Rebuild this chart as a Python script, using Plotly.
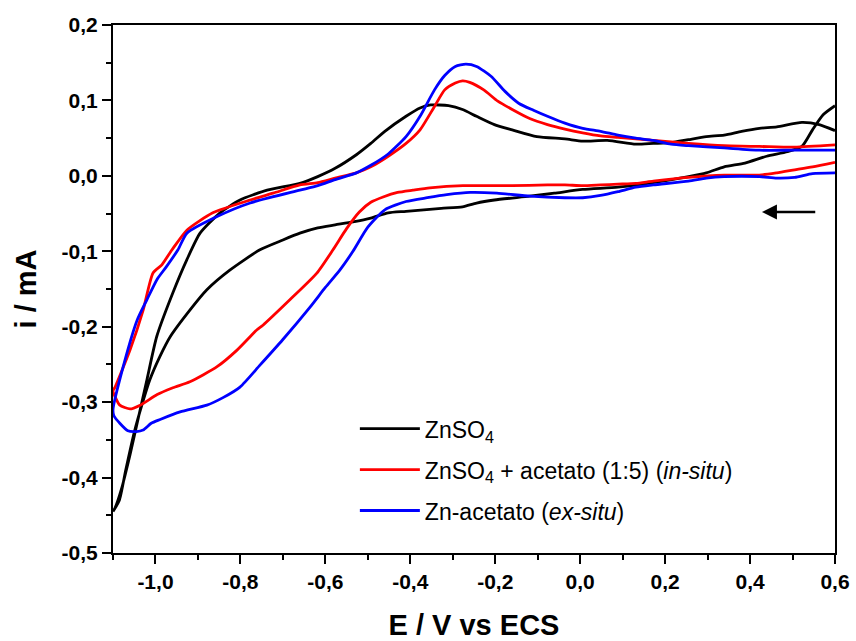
import plotly.graph_objects as go

# ZnSO4 (black)
znso4_E = [0.6, 0.563, 0.522, 0.463, 0.422, 0.380, 0.339, 0.297, 0.255, 0.214, 0.172, 0.131, 0.064, 0.006,
           -0.036, -0.102, -0.160, -0.202, -0.244, -0.277, -0.310, -0.352, -0.377, -0.410, -0.460, -0.493,
           -0.527, -0.577, -0.618, -0.660, -0.737, -0.801, -0.848, -0.895, -0.926, -0.959, -0.997, -1.02,
           -1.04, -1.06, -1.08, -1.095, -1.1,
           -1.085, -1.07, -1.05, -1.03, -1.013, -0.99, -0.965, -0.919, -0.879, -0.825, -0.754, -0.7, -0.660,
           -0.618, -0.577, -0.535, -0.493, -0.452, -0.410, -0.327, -0.277, -0.244, -0.202, -0.119, -0.061,
           0.006, 0.089, 0.172, 0.255, 0.297, 0.339, 0.388, 0.439, 0.488, 0.522, 0.547, 0.572, 0.6]
znso4_i = [0.060, 0.068, 0.071, 0.065, 0.063, 0.059, 0.054, 0.052, 0.048, 0.044, 0.043, 0.042, 0.047, 0.046,
           0.049, 0.052, 0.061, 0.068, 0.079, 0.088, 0.093, 0.094, 0.090, 0.079, 0.059, 0.043,
           0.028, 0.010, -0.001, -0.010, -0.019, -0.032, -0.049, -0.076, -0.111, -0.155, -0.213, -0.27,
           -0.32, -0.37, -0.415, -0.44, -0.445,
           -0.43, -0.39, -0.34, -0.30, -0.27, -0.24, -0.213, -0.178, -0.151, -0.125, -0.098, -0.085, -0.076,
           -0.069, -0.065, -0.061, -0.056, -0.049, -0.047, -0.043, -0.041, -0.036, -0.032, -0.027, -0.023,
           -0.018, -0.015, -0.009, -0.001, 0.004, 0.012, 0.017, 0.026, 0.032, 0.039, 0.061, 0.081, 0.093]

# ZnSO4 + acetato (1:5) in-situ (red)
insitu_E = [0.6, 0.505, 0.422, 0.339, 0.255, 0.172, 0.131, 0.089, 0.048, 0.006, -0.036, -0.077, -0.119,
            -0.160, -0.194, -0.227, -0.260, -0.277, -0.294, -0.319, -0.343, -0.377, -0.410, -0.452, -0.493,
            -0.527, -0.577, -0.618, -0.660, -0.723, -0.777, -0.865, -0.926, -0.961, -0.985, -1.006, -1.029,
            -1.06, -1.095, -1.1,
            -1.095, -1.084, -1.06, -1.036, -0.996, -0.959, -0.919, -0.855, -0.808, -0.761, -0.747, -0.683,
            -0.62, -0.582, -0.55, -0.52, -0.493, -0.464, -0.43, -0.394, -0.354, -0.276, -0.160, -0.077,
            -0.036, 0.006, 0.048, 0.089, 0.131, 0.172, 0.255, 0.339, 0.422, 0.463, 0.505, 0.547, 0.6]
insitu_i = [0.041, 0.038, 0.039, 0.040, 0.043, 0.047, 0.049, 0.051, 0.053, 0.057, 0.062, 0.068, 0.076,
            0.088, 0.099, 0.114, 0.124, 0.126, 0.123, 0.114, 0.092, 0.061, 0.043, 0.026, 0.012,
            0.004, -0.003, -0.009, -0.012, -0.023, -0.032, -0.049, -0.072, -0.098, -0.118, -0.129, -0.178,
            -0.231, -0.28, -0.285,
            -0.293, -0.304, -0.309, -0.304, -0.29, -0.281, -0.273, -0.253, -0.231, -0.204, -0.198, -0.164,
            -0.129, -0.098, -0.07, -0.048, -0.035, -0.028, -0.022, -0.019, -0.016, -0.013, -0.013, -0.012,
            -0.012, -0.013, -0.012, -0.011, -0.010, -0.007, -0.002, 0.001, 0.001, 0.004, 0.008, 0.012, 0.018]

# Zn-acetato ex-situ (blue)
exsitu_E = [0.6, 0.505, 0.422, 0.339, 0.255, 0.214, 0.172, 0.131, 0.089, 0.048, 0.006, -0.036, -0.077,
            -0.110, -0.144, -0.177, -0.210, -0.244, -0.269, -0.294, -0.319, -0.343, -0.377, -0.410, -0.452,
            -0.493, -0.527, -0.577, -0.618, -0.660, -0.777, -0.855, -0.926, -0.947, -0.975, -0.996, -1.02,
            -1.043, -1.076, -1.1,
            -1.098, -1.084, -1.065, -1.045, -1.029, -1.01, -0.989, -0.942, -0.879, -0.841, -0.801, -0.754,
            -0.7, -0.636, -0.6, -0.566, -0.535, -0.5, -0.46, -0.41, -0.36, -0.314, -0.259, -0.196, -0.118,
            -0.036, 0.006, 0.048, 0.089, 0.131, 0.172, 0.255, 0.297, 0.339, 0.422, 0.463, 0.505, 0.547, 0.6]
exsitu_i = [0.034, 0.034, 0.034, 0.037, 0.040, 0.042, 0.047, 0.050, 0.054, 0.059, 0.063, 0.070, 0.079,
            0.087, 0.096, 0.112, 0.132, 0.145, 0.148, 0.145, 0.133, 0.114, 0.079, 0.052, 0.029,
            0.014, 0.004, -0.005, -0.013, -0.019, -0.036, -0.054, -0.076, -0.098, -0.121, -0.137, -0.164,
            -0.191, -0.253, -0.31,
            -0.318, -0.328, -0.338, -0.339, -0.337, -0.328, -0.323, -0.313, -0.304, -0.294, -0.28, -0.251,
            -0.217, -0.174, -0.148, -0.125, -0.100, -0.068, -0.045, -0.034, -0.029, -0.025, -0.022, -0.023,
            -0.027, -0.029, -0.029, -0.026, -0.021, -0.015, -0.012, -0.007, -0.003, -0.001, -0.001, -0.003,
            -0.002, 0.003, 0.004]

series_names = ["ZnSO<sub>4</sub>",
                "ZnSO<sub>4</sub> + acetato (1:5) (<i>in-situ</i>)",
                "Zn-acetato (<i>ex-situ</i>)"]
series_colors = ["#000000", "#ff0000", "#0000ff"]

x_ticks = [-1.0, -0.8, -0.6, -0.4, -0.2, 0.0, 0.2, 0.4, 0.6]
y_ticks = [-0.5, -0.4, -0.3, -0.2, -0.1, 0.0, 0.1, 0.2]


def fmt(v):
    return f"{v:.1f}".replace(".", ",")


FONT = "Liberation Sans, Arial, sans-serif"

fig = go.Figure()
for k, (E, I) in enumerate([(znso4_E, znso4_i), (insitu_E, insitu_i), (exsitu_E, exsitu_i)]):
    fig.add_trace(go.Scatter(x=E, y=I, mode="lines", name=series_names[k],
                             legendgroup=f"g{k}",
                             line=dict(color=series_colors[k], width=2.8, shape="spline", smoothing=0.6)))

axis_common = dict(showline=True, linecolor="black", linewidth=2, mirror=True,
                   ticks="outside", ticklen=9, tickwidth=2, tickcolor="black",
                   showgrid=False, zeroline=False, automargin=False,
                   tickfont=dict(family=FONT, size=21, color="black", weight="bold"),
                   minor=dict(ticks="outside", ticklen=5, tickwidth=2, tickcolor="black", showgrid=False))

fig.update_xaxes(range=[-1.1, 0.6], tickvals=x_ticks, ticktext=[fmt(v) for v in x_ticks],
                 minor_dtick=0.1, minor_tick0=-1.0,
                 title=dict(text="E / V vs ECS", standoff=22,
                            font=dict(family=FONT, size=29, color="black", weight="bold")),
                 **axis_common)
fig.update_yaxes(range=[-0.5, 0.2], tickvals=y_ticks, ticktext=[fmt(v) for v in y_ticks],
                 minor_dtick=0.05, minor_tick0=0.0,
                 title=dict(text="i / mA", standoff=16,
                            font=dict(family=FONT, size=29, color="black", weight="bold")),
                 **axis_common)

fig.add_annotation(x=0.428, y=-0.048, ax=0.557, ay=-0.048, xref="x", yref="y", axref="x", ayref="y",
                   showarrow=True, arrowhead=2, arrowsize=1.2, arrowwidth=2.5, arrowcolor="black", text="")

fig.update_layout(
    width=856, height=641,
    margin=dict(l=113, r=21, t=25, b=88),
    plot_bgcolor="white", paper_bgcolor="white",
    showlegend=True,
    legend=dict(x=0.335, y=0.276, xanchor="left", yanchor="top",
                font=dict(family=FONT, size=23, color="black"),
                bgcolor="rgba(0,0,0,0)", itemwidth=60, tracegroupgap=8),
)

fig.write_html("out.html", config={"displayModeBar": False},
               post_script="document.body.style.margin='0px';document.body.style.overflow='hidden';")
